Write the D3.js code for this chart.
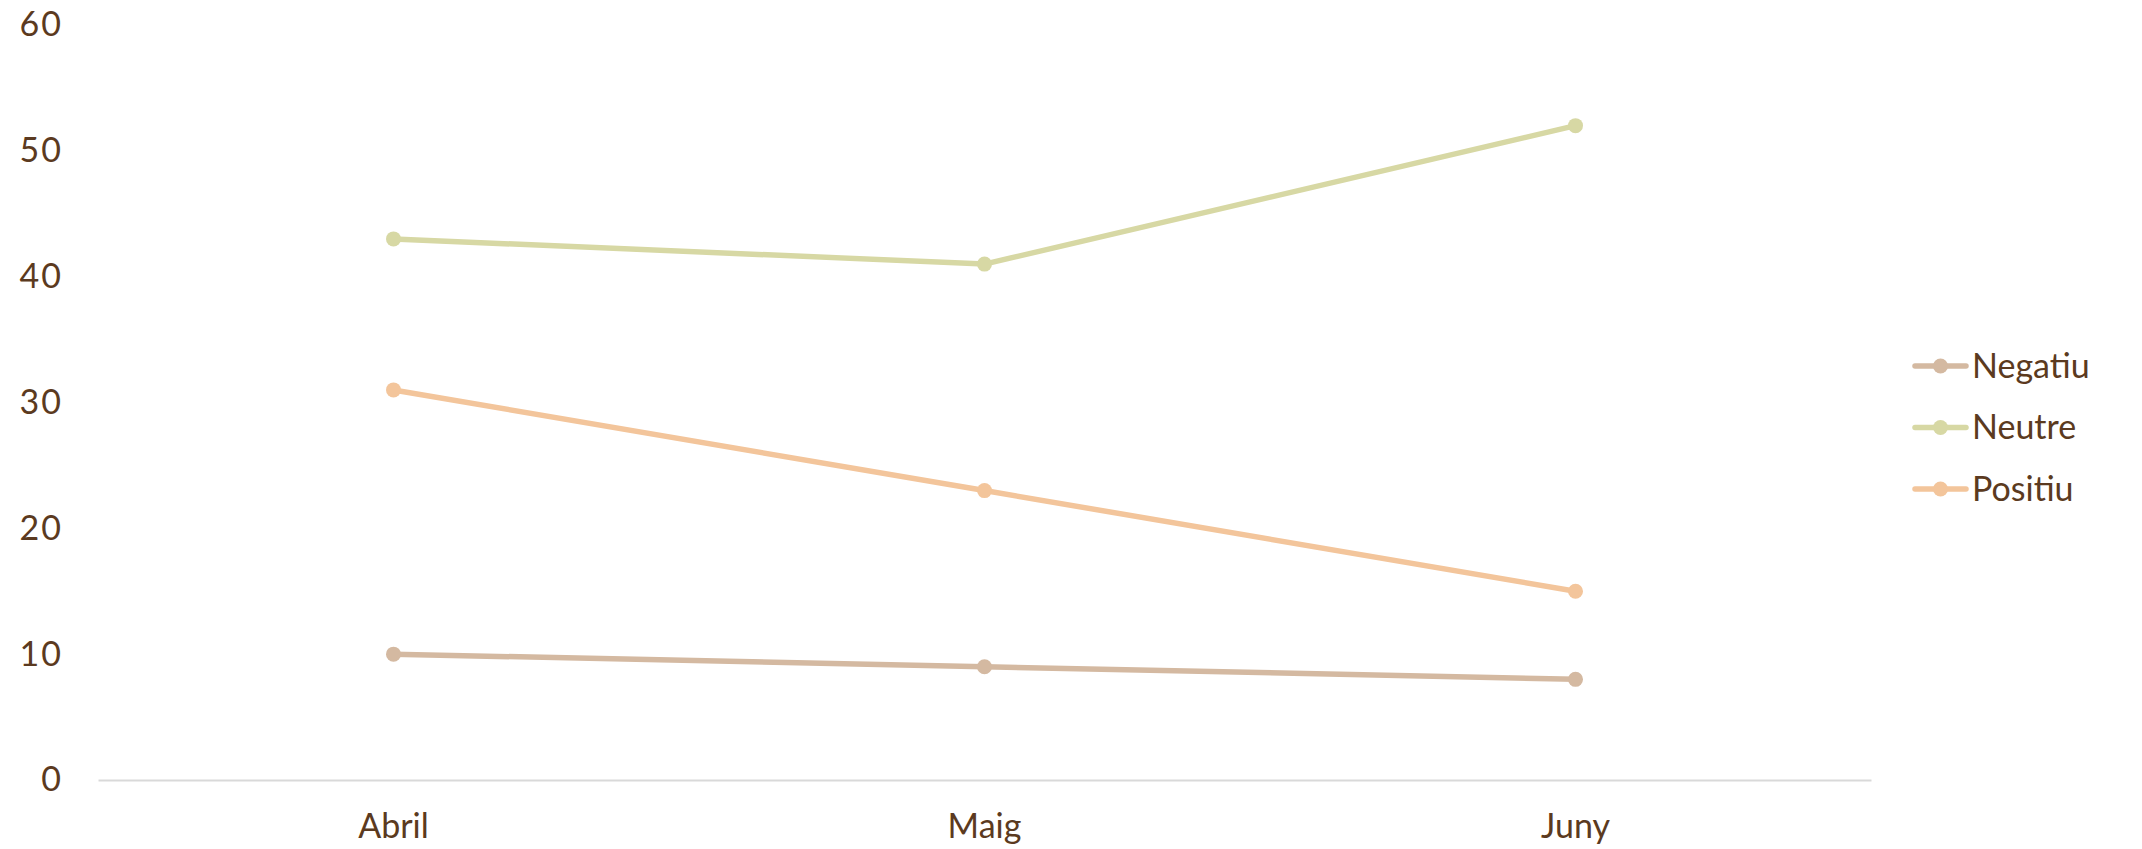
<!DOCTYPE html>
<html>
<head>
<meta charset="utf-8">
<script src="https://cdn.jsdelivr.net/npm/d3@7/dist/d3.min.js"></script>
<style>
  html, body { margin: 0; padding: 0; background: #ffffff; }
  svg { display: block; }
  text { font-family: Lato, "Open Sans", sans-serif; fill: #5b3a20; }
</style>
</head>
<body>
<svg id="chart" width="2142" height="849"></svg>
<script>
const categories = ["Abril", "Maig", "Juny"];
const seriesNames = ["Negatiu", "Neutre", "Positiu"];
const negatiu = [10, 9, 8];
const neutre = [43, 41, 52];
const positiu = [31, 23, 15];
const yTicks = [0, 10, 20, 30, 40, 50, 60];
const colors = ["#d4b9a1", "#d7d8a4", "#f3c59b"];

const series = [
  { name: seriesNames[0], values: negatiu, color: colors[0] },
  { name: seriesNames[1], values: neutre, color: colors[1] },
  { name: seriesNames[2], values: positiu, color: colors[2] }
];

const svg = d3.select("#chart");
const mLeft = 98, mRight = 1871, mTop = 25, mBottom = 780;

const x = d3.scaleBand().domain(categories).range([mLeft, mRight]);
const y = d3.scaleLinear().domain([0, 60]).range([mBottom, mTop]);

// y-axis labels
const yAxis = svg.append("g").attr("transform", `translate(${mLeft},0)`)
  .call(d3.axisLeft(y).tickValues(yTicks).tickSize(0).tickPadding(35));
yAxis.select(".domain").remove();
yAxis.selectAll("text").style("font-size", "34px").attr("fill", "#5b3a20")
  .style("font-family", "Lato, 'Open Sans', sans-serif")
  .attr("letter-spacing", "2px");

// x-axis
const xAxis = svg.append("g").attr("transform", `translate(0,${mBottom})`)
  .call(d3.axisBottom(x).tickSize(0).tickPadding(34));
xAxis.select(".domain").attr("stroke", "#d9d9d9").attr("stroke-width", 2);
xAxis.selectAll("text").style("font-size", "34px").attr("fill", "#5b3a20")
  .style("font-family", "Lato, 'Open Sans', sans-serif");

const cx = c => x(c) + x.bandwidth() / 2;
const line = d3.line().x((d, i) => cx(categories[i])).y(d => y(d));

series.forEach(s => {
  svg.append("path").datum(s.values)
    .attr("d", line)
    .attr("fill", "none")
    .attr("stroke", s.color)
    .attr("stroke-width", 5.5)
    .attr("stroke-linecap", "round")
    .attr("stroke-linejoin", "round");
  svg.selectAll(null).data(s.values).enter().append("circle")
    .attr("cx", (d, i) => cx(categories[i]))
    .attr("cy", d => y(d))
    .attr("r", 7.5)
    .attr("fill", s.color);
});

// legend
const legend = svg.append("g");
const legendY = d3.scalePoint().domain(seriesNames).range([366, 489]);
series.forEach(s => {
  const g = legend.append("g").attr("transform", `translate(0,${legendY(s.name)})`);
  g.append("line").attr("x1", 1915).attr("x2", 1966).attr("y1", 0).attr("y2", 0)
    .attr("stroke", s.color).attr("stroke-width", 5.5).attr("stroke-linecap", "round");
  g.append("circle").attr("cx", 1940.5).attr("cy", 0).attr("r", 7.5).attr("fill", s.color);
  g.append("text").attr("x", 1972).attr("y", 0).attr("dy", "0.35em")
    .style("font-size", "34px").text(s.name);
});
</script>
</body>
</html>
